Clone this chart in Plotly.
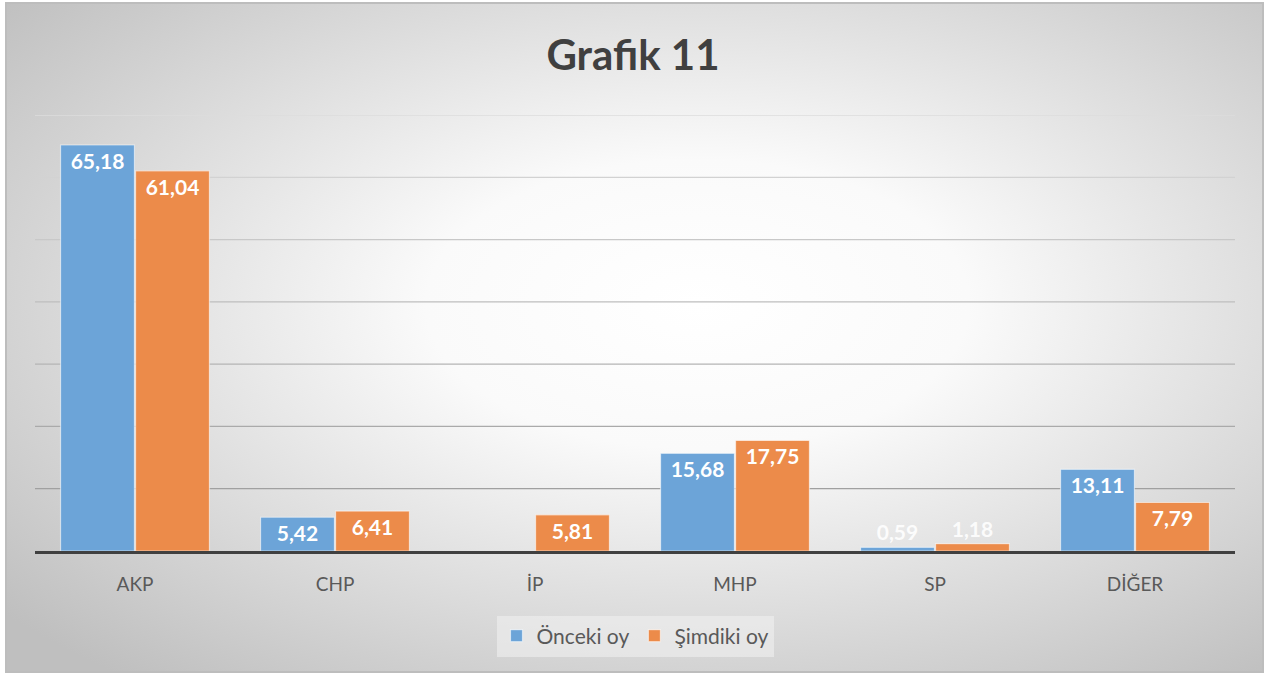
import base64
import plotly.graph_objects as go

categories = ["AKP", "CHP", "İP", "MHP", "SP", "DİĞER"]
onceki = [65.18, 5.42, None, 15.68, 0.59, 13.11]
simdiki = [61.04, 6.41, 5.81, 17.75, 1.18, 7.79]
series_names = ["Önceki oy", "Şimdiki oy"]
grid_values = [10, 20, 30, 40, 50, 60, 70]

W, H = 1266, 673
L, R, T, B = 35, 31, 115, 122
PW, PH = W - L - R, H - T - B

FONT = "Lato"


def fmt(v):
    return "" if v is None else f"{v:.2f}".replace(".", ",")


def positions(vals):
    return ["outside" if (v is not None and v < 3) else "inside" for v in vals]


fig = go.Figure()
for name, vals, color in [(series_names[0], onceki, "#6CA4D8"),
                          (series_names[1], simdiki, "#EC8B4A")]:
    fig.add_trace(go.Bar(
        name=name, x=categories, y=vals,
        text=[fmt(v) for v in vals],
        textposition=positions(vals),
        insidetextanchor="end",
        textfont=dict(family=FONT, size=21, color="white", weight="bold"),
        outsidetextfont=dict(family=FONT, size=21, color="rgba(255,255,255,0.9)", weight="bold"),
        marker=dict(color=color, line=dict(color="rgba(255,255,255,0.55)", width=1.2)),
        cliponaxis=False,
    ))

# radial gradient chart background (styling only)
svg = ("<svg xmlns='http://www.w3.org/2000/svg' width='1259' height='670' viewBox='0 0 1259 670' "
       "preserveAspectRatio='none'><defs><radialGradient id='g' cx='55%' cy='45%' r='72%'>"
       "<stop offset='0' stop-color='#ffffff'/><stop offset='0.3' stop-color='#fafafa'/>"
       "<stop offset='1' stop-color='#bfbfbf'/></radialGradient></defs>"
       "<rect x='1' y='1' width='1257' height='668' fill='url(#g)' stroke='#bdbdbd' stroke-width='2'/></svg>")
src = "data:image/svg+xml;base64," + base64.b64encode(svg.encode()).decode()

x0p = (5 - L) / PW
x1p = (1264 - L) / PW
y1p = (H - B - 2) / PH
y0p = (H - B - 673) / PH
fig.add_layout_image(dict(source=src, xref="paper", yref="paper", x=x0p, y=y1p,
                          sizex=x1p - x0p, sizey=y1p - y0p, sizing="stretch",
                          xanchor="left", yanchor="top", layer="below"))

# gridlines, darkening downward like the original
shapes = []
for gv in grid_values:
    frac = gv / 70
    c = int(0x96 + (0xDC - 0x96) * frac)
    shapes.append(dict(type="line", xref="paper", yref="y", x0=0, x1=1, y0=gv, y1=gv,
                       line=dict(color=f"rgb({c},{c},{c})", width=1.3), layer="below"))
fig.update_layout(shapes=shapes)

fig.update_layout(
    width=W, height=H,
    margin=dict(l=L, r=R, t=T, b=B),
    paper_bgcolor="white", plot_bgcolor="rgba(0,0,0,0)",
    title=dict(text="Grafik 11", x=0.5, xanchor="center", y=1 - 55 / H, yanchor="middle",
               xref="container", yref="container",
               font=dict(family=FONT, size=42, color="#404040", weight="bold")),
    barmode="group", bargap=0.25, bargroupgap=0.015,
    xaxis=dict(showline=True, linecolor="#404040", linewidth=3, showgrid=False,
               ticks="", tickfont=dict(family=FONT, size=19, color="#595959"),
               ticklabelstandoff=14),
    yaxis=dict(range=[0, 70], showgrid=False, showticklabels=False, zeroline=False,
               fixedrange=True),
    legend=dict(orientation="h", x=0.5, xanchor="center", y=(H - B - 636) / PH, yanchor="middle",
                bgcolor="rgba(240,240,240,0.6)",
                font=dict(family=FONT, size=21, color="#595959"),
                itemwidth=30, tracegroupgap=0),
    showlegend=True,
)

fig.write_html("out.html", config={"displayModeBar": False},
               post_script="document.body.style.margin='0';")
